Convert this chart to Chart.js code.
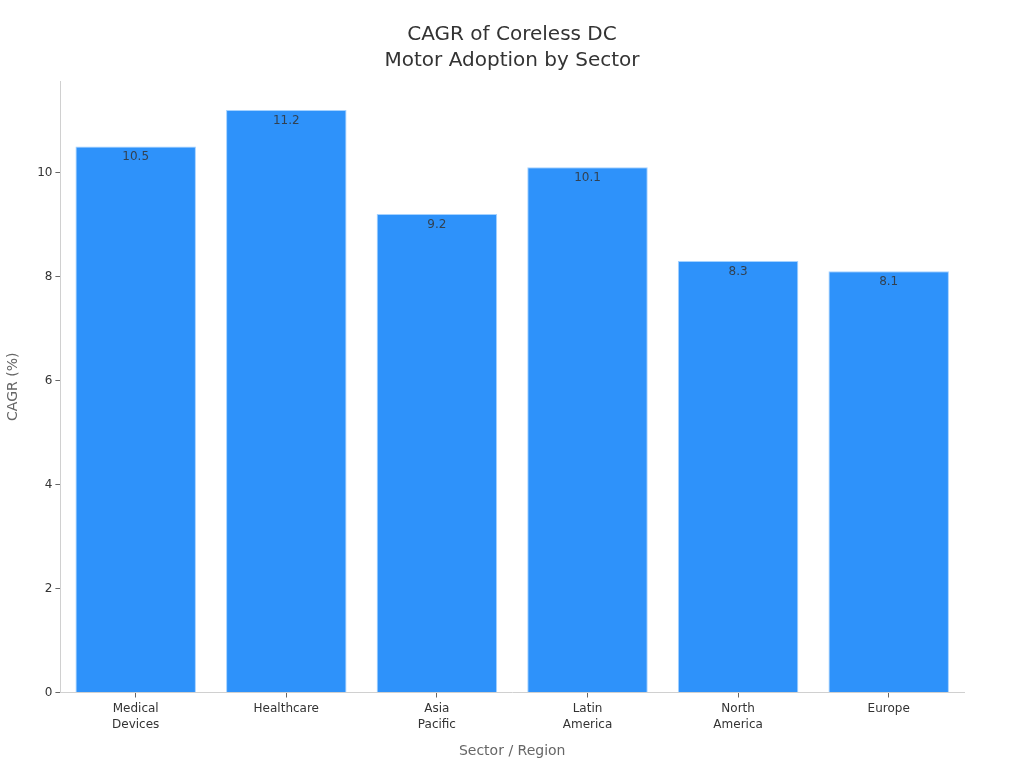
<!DOCTYPE html>
<html lang="en">
<head>
  <meta charset="UTF-8" />
  <title>CAGR of Coreless DC Motor Adoption by Sector</title>
  <script src="https://cdn.jsdelivr.net/npm/chart.js"></script>
  <style>
    body { margin: 0; background-color: #ffffff; }
    canvas { display: block; }
  </style>
</head>
<body>
  <canvas id="cagrChart" width="1024" height="768"></canvas>

<script>
  const categories = [['Medical', 'Devices'], 'Healthcare', ['Asia', 'Pacific'], ['Latin', 'America'], ['North', 'America'], 'Europe'];
  const cagrValues = [10.5, 11.2, 9.2, 10.1, 8.3, 8.1];
  const titleLines = ['CAGR of Coreless DC', 'Motor Adoption by Sector'];
  const fontFamily = '"DejaVu Sans", sans-serif';

  // value labels, just inside the top of each bar
  const valueLabels = {
    id: 'valueLabels',
    afterDatasetsDraw(chart) {
      const ctx = chart.ctx;
      const meta = chart.getDatasetMeta(0);
      ctx.save();
      ctx.font = '12px ' + fontFamily;
      ctx.fillStyle = 'rgba(51, 51, 51, 0.85)';
      ctx.textAlign = 'center';
      ctx.textBaseline = 'middle';
      meta.data.forEach((bar, i) => {
        ctx.fillText(cagrValues[i].toFixed(1), bar.x, bar.y + 10.5);
      });
      ctx.restore();
    }
  };

  new Chart(document.getElementById('cagrChart'), {
    type: 'bar',
    data: {
      labels: categories,
      datasets: [{
        data: cagrValues,
        backgroundColor: '#2e92fa',
        borderColor: '#a5d2ff',
        borderWidth: 1,
        categoryPercentage: 1,
        barPercentage: 0.8
      }]
    },
    options: {
      responsive: false,
      animation: false,
      devicePixelRatio: 1,
      plugins: {
        legend: { display: false },
        tooltip: { enabled: false },
        title: {
          display: true,
          text: titleLines,
          color: '#333333',
          font: { family: fontFamily, size: 20, weight: 'normal', lineHeight: 1.3 },
          padding: { top: 22, bottom: 7 }
        }
      },
      scales: {
        x: {
          grid: { offset: false, drawOnChartArea: false, drawTicks: true, tickLength: 5, tickColor: '#666666' },
          border: { color: '#d0d0d0' },
          ticks: { color: '#333333', font: { family: fontFamily, size: 12, lineHeight: 1.3 }, maxRotation: 0, padding: 4 },
          title: {
            display: true,
            text: 'Sector / Region',
            color: '#666666',
            font: { family: fontFamily, size: 14 },
            padding: { top: 12, bottom: 8 }
          },
          afterFit(scale) { scale.height = 75.5; }
        },
        y: {
          min: 0,
          max: 11.76,
          afterBuildTicks(scale) { scale.ticks = scale.ticks.filter((t) => t.value % 2 === 0); },
          grid: { drawOnChartArea: false, drawTicks: true, tickLength: 5, tickColor: '#666666' },
          border: { color: '#d0d0d0' },
          ticks: {
            stepSize: 2,
            color: '#333333',
            font: { family: fontFamily, size: 12 },
            padding: 3
          },
          title: {
            display: true,
            text: 'CAGR (%)',
            color: '#666666',
            font: { family: fontFamily, size: 14 },
            padding: { top: 5, bottom: 0 }
          },
          afterFit(scale) { scale.width = 60.4; }
        },
        // empty axis, keeps the right margin without shifting the title off centre
        yRight: {
          position: 'right',
          grid: { display: false },
          border: { display: false },
          ticks: { display: false },
          afterFit(scale) { scale.width = 60; }
        }
      }
    },
    plugins: [valueLabels]
  });
</script>
</body>
</html>
